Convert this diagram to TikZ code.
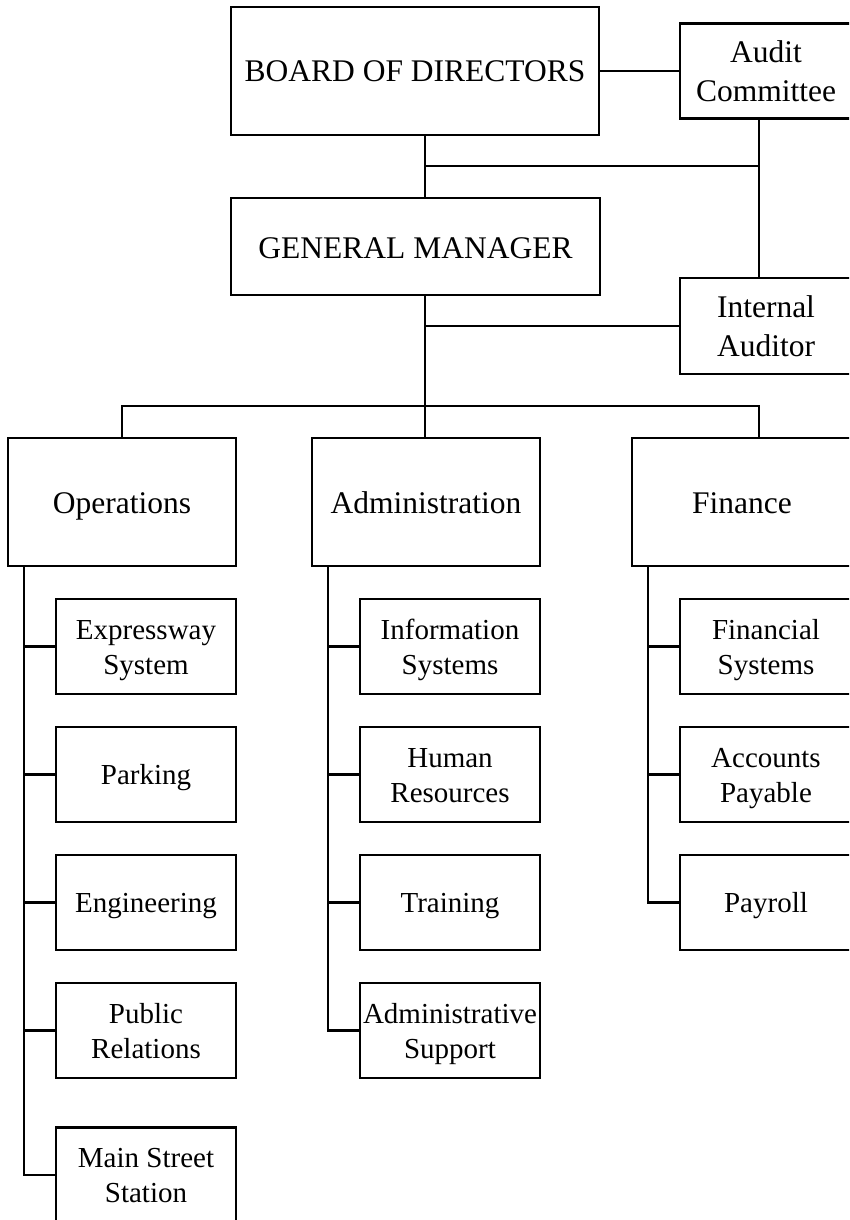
\documentclass[tikz,border=0pt]{standalone}
\usepackage{fontspec}
\setmainfont{Liberation Serif}
\begin{document}
\begin{tikzpicture}[x=1pt, y=-1pt,
  box/.style={draw, line width=2.4pt, inner sep=0pt, align=center,
              font=\fontsize{31.5}{38.5}\selectfont,
              text height=22pt, text depth=0pt},
  twoline/.style={text height=60.5pt},
  unitbox/.style={box, minimum width=228, minimum height=128},
  subbox/.style={box, minimum width=180, minimum height=95,
                 font=\fontsize{29}{35}\selectfont,
                 text height=20.5pt},
  subtwo/.style={text height=55.5pt},
  link/.style={line width=2.2pt}]
\useasboundingbox (0,0) rectangle (849,1220);
\clip (0,0) rectangle (849,1220);

% governing level
\node[box, minimum width=368, minimum height=128] (board) at (415,71) {BOARD OF DIRECTORS};
\node[box, twoline, minimum width=172, minimum height=95] (audit) at (766,71) {Audit\\Committee};
\node[box, minimum width=369, minimum height=97, text height=24pt] (gm) at (415.5,246.5) {GENERAL MANAGER};
\node[box, twoline, minimum width=172, minimum height=96] (ia) at (766,326) {Internal\\Auditor};

% departments
\node[unitbox] (ops)   at (122,502) {Operations};
\node[unitbox] (adm)   at (426,502) {Administration};
\node[unitbox, minimum width=220] (fin) at (742,502) {Finance};

% operations units
\node[subbox, subtwo] (ops1) at (146,646.5)  {Expressway\\System};
\node[subbox]         (ops2) at (146,774.5)  {Parking};
\node[subbox]         (ops3) at (146,902.5)  {Engineering};
\node[subbox, subtwo] (ops4) at (146,1030.5) {Public\\Relations};
\node[subbox, subtwo] (ops5) at (146,1175)   {Main Street\\Station};

% administration units
\node[subbox, subtwo] (adm1) at (450,646.5)  {Information\\Systems};
\node[subbox, subtwo] (adm2) at (450,774.5)  {Human\\Resources};
\node[subbox]         (adm3) at (450,902.5)  {Training};
\node[subbox, subtwo] (adm4) at (450,1030.5) {Administrative\\Support};

% finance units
\node[subbox, subtwo, minimum width=172] (fin1) at (766,646.5) {Financial\\Systems};
\node[subbox, subtwo, minimum width=172] (fin2) at (766,774.5) {Accounts\\Payable};
\node[subbox, minimum width=172]         (fin3) at (766,902.5) {Payroll};

% junction points
\coordinate (mainx) at (425,0);
\coordinate (auditx) at (759,0);
\coordinate (jtop) at (425,166);
\coordinate (jia) at (425,326);
\coordinate (jdept) at (425,406);
\coordinate (opsx) at (24,0);
\coordinate (admx) at (328,0);
\coordinate (finx) at (648,0);

% governing links
\draw[link] (board.east) -- (board.east -| audit.west);
\draw[link] (board.south -| mainx) -- (gm.north -| mainx);
\draw[link] (jtop) -- (jtop -| auditx);
\draw[link] (audit.south -| auditx) -- (ia.north -| auditx);
\draw[link] (gm.south -| mainx) -- (adm.north -| mainx);
\draw[link] (jia) -- (ia.west);

% department branch
\draw[link] (ops.north) |- (jdept) -| (fin.north -| auditx);

% unit trunks
\draw[link] (ops.south -| opsx) |- (ops5.west);
\foreach \n in {ops1,ops2,ops3,ops4} \draw[link] (\n.west -| opsx) -- (\n.west);
\draw[link] (adm.south -| admx) |- (adm4.west);
\foreach \n in {adm1,adm2,adm3} \draw[link] (\n.west -| admx) -- (\n.west);
\draw[link] (fin.south -| finx) |- (fin3.west);
\foreach \n in {fin1,fin2} \draw[link] (\n.west -| finx) -- (\n.west);
\end{tikzpicture}
\end{document}
